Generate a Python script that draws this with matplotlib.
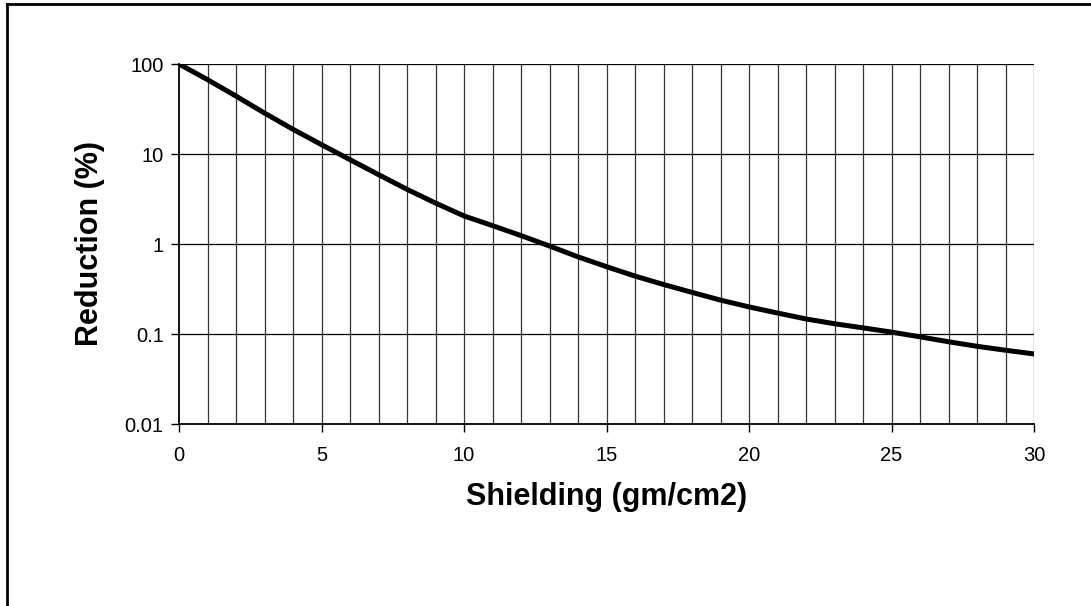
import matplotlib
matplotlib.use('Agg')
import matplotlib.pyplot as plt
from matplotlib.lines import Line2D
from matplotlib.ticker import FixedLocator, FixedFormatter, NullLocator

plt.rcParams['font.family'] = ['Liberation Sans', 'DejaVu Sans']

# donnees
shielding = list(range(0, 31))
reduction = [100, 67, 44, 28.5, 18.8, 12.7, 8.65, 5.9, 4.05, 2.85, 2.05,
             1.6, 1.24, 0.95, 0.72, 0.56, 0.44, 0.355, 0.29, 0.238, 0.20,
             0.171, 0.147, 0.13, 0.117, 0.105, 0.093, 0.082, 0.073, 0.066, 0.06]

y_ticks = [0.01, 0.1, 1, 10, 100]
y_labels = ['0.01', '0.1', '1', '10', '100']
x_ticks = [0, 5, 10, 15, 20, 25, 30]

fig = plt.figure(figsize=(10.91, 6.06), dpi=100)
ax = fig.add_axes([179/1091, 1 - 424/606, (1034-179)/1091, (424-64)/606])

ax.plot(shielding, reduction, color='black', lw=3.6, solid_joinstyle='round', zorder=3)

ax.set_yscale('log')
ax.set_xlim(0, 30)
ax.set_ylim(0.01, 100)

# grille
for gx in range(1, 31):
    ax.axvline(gx, color='#333333', lw=0.9, zorder=1)
for gy in y_ticks[1:]:
    ax.axhline(gy, color='black', lw=0.9, zorder=1)

ax.yaxis.set_major_locator(FixedLocator(y_ticks))
ax.yaxis.set_major_formatter(FixedFormatter(y_labels))
ax.yaxis.set_minor_locator(NullLocator())
ax.set_xticks(x_ticks)
ax.tick_params(axis='both', direction='out', length=6, width=1, labelsize=14.5)
ax.tick_params(axis='x', pad=10)
ax.tick_params(axis='y', pad=5)

for s in ['top', 'right']:
    ax.spines[s].set_visible(False)
for s in ['left', 'bottom']:
    ax.spines[s].set_linewidth(1.3)

ax.set_xlabel('Shielding (gm/cm2)', fontsize=22, fontweight='bold')
ax.set_ylabel('Reduction (%)', fontsize=22, fontweight='bold')
ax.xaxis.set_label_coords(0.5, -0.162)
ax.yaxis.set_label_coords(-0.087, 0.5)

# cadre exterieur (haut et gauche seulement)
fig.add_artist(Line2D([6.5/1091, 1], [1 - 3.5/606, 1 - 3.5/606], color='black', lw=2))
fig.add_artist(Line2D([6.5/1091, 6.5/1091], [0, 1 - 3.5/606], color='black', lw=2))

fig.savefig('out.png', dpi=100)
